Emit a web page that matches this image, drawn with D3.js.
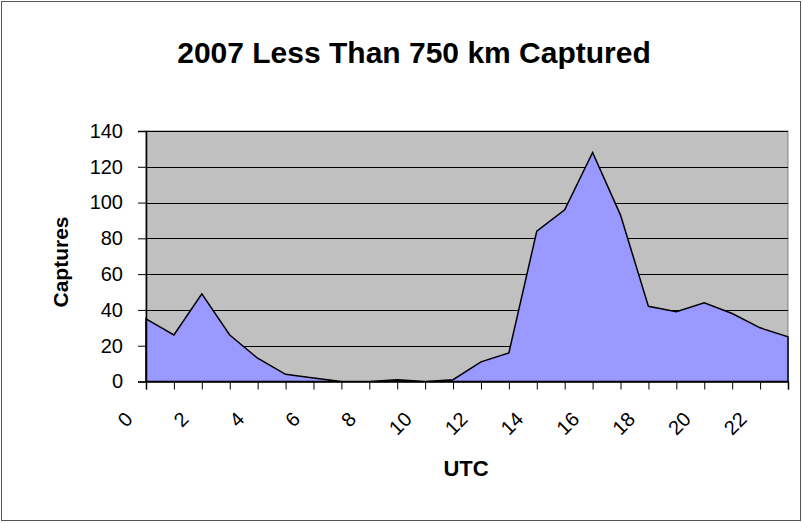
<!DOCTYPE html>
<html>
<head>
<meta charset="utf-8">
<script src="https://cdn.jsdelivr.net/npm/d3@7"></script>
<style>
  body { margin: 0; background: #fff; }
  svg { display: block; font-family: "Liberation Sans", Arial, sans-serif; }
</style>
</head>
<body>
<svg id="chart" width="803" height="523"></svg>
<script>
// godziny UTC i liczba przechwyceń
const hours = d3.range(0, 24);
const captures = [35, 26, 49, 26, 13, 4, 2, 0, 0, 1, 0, 1, 11, 16, 84, 96, 128, 93, 42, 39, 44, 38, 30, 25];
const yTicks = [0, 20, 40, 60, 80, 100, 120, 140];
const xLabels = [0, 2, 4, 6, 8, 10, 12, 14, 16, 18, 20, 22];

const svg = d3.select("#chart");
const plotLeft = 146, plotRight = 788, plotTop = 131, plotBottom = 381.5;

const x = d3.scalePoint().domain(hours).range([plotLeft, plotRight]);
const y = d3.scaleLinear().domain([0, 140]).range([plotBottom, plotTop]);

// ramka całego wykresu
svg.append("rect")
    .attr("x", 1.5).attr("y", 1.5)
    .attr("width", 799).attr("height", 519)
    .attr("fill", "#fff")
    .attr("stroke", "#555")
    .attr("stroke-width", 1);

svg.append("text")
    .attr("x", 414)
    .attr("y", 63)
    .attr("text-anchor", "middle")
    .attr("font-weight", "bold")
    .attr("font-size", 30)
    .text("2007 Less Than 750 km Captured");

// tło obszaru wykresu
svg.append("rect")
    .attr("x", plotLeft).attr("y", plotTop)
    .attr("width", plotRight - plotLeft).attr("height", plotBottom - plotTop)
    .attr("fill", "#c0c0c0")
    .attr("stroke", "#808080");

svg.append("g")
    .selectAll("line")
    .data(yTicks.filter(d => d > 0))
    .enter()
    .append("line")
    .attr("x1", plotLeft).attr("x2", plotRight)
    .attr("y1", d => Math.round(y(d)) + 0.5)
    .attr("y2", d => Math.round(y(d)) + 0.5)
    .attr("stroke", "#000");

const area = d3.area()
    .x((d, i) => x(hours[i]))
    .y0(plotBottom)
    .y1(d => y(d));

svg.append("path")
    .datum(captures)
    .attr("d", area)
    .attr("fill", "#9999ff")
    .attr("stroke", "#000")
    .attr("stroke-width", 1.5)
    .attr("stroke-linejoin", "miter");

// oś Y
const yAxis = svg.append("g")
    .attr("transform", `translate(${plotLeft}, 0)`)
    .attr("font-family", null)
    .call(d3.axisLeft(y).tickValues(yTicks).tickSize(8).tickPadding(15));
yAxis.attr("font-family", null);
yAxis.select(".domain").attr("stroke", "#000").attr("stroke-width", 1.5);
yAxis.selectAll("text").attr("font-size", 20).attr("fill", "#000");

// oś X
const xAxis = svg.append("g")
    .attr("transform", `translate(0, ${plotBottom})`)
    .call(d3.axisBottom(x).tickSize(8).tickFormat(""));
xAxis.attr("font-family", null);
xAxis.select(".domain").attr("stroke", "#000").attr("stroke-width", 1.5);

svg.append("g")
    .selectAll("text")
    .data(xLabels)
    .enter()
    .append("text")
    .attr("transform", d => `translate(${x(d) - 17}, ${plotBottom + 34}) rotate(-45)`)
    .attr("text-anchor", "end")
    .attr("dy", "0.35em")
    .attr("font-size", 20)
    .text(d => d);

svg.append("text")
    .attr("transform", "translate(68, 262) rotate(-90)")
    .attr("text-anchor", "middle")
    .attr("font-weight", "bold")
    .attr("font-size", 21)
    .text("Captures");

svg.append("text")
    .attr("x", 466)
    .attr("y", 476)
    .attr("text-anchor", "middle")
    .attr("font-weight", "bold")
    .attr("font-size", 22)
    .text("UTC");
</script>
</body>
</html>
